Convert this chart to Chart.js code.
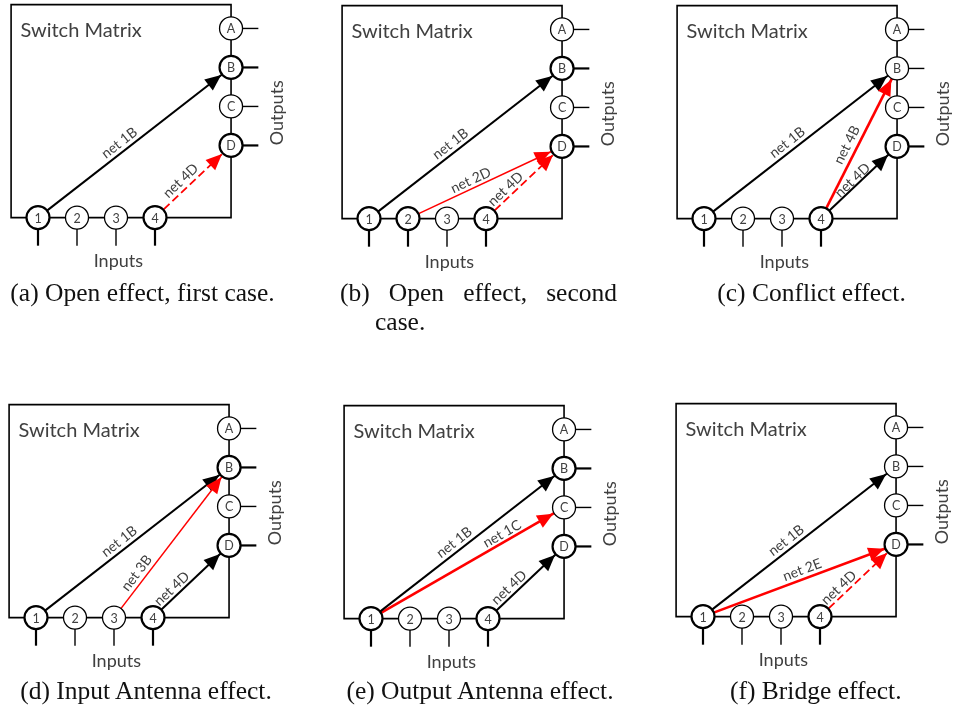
<!DOCTYPE html>
<html>
<head>
<meta charset="utf-8">
<script src="https://cdn.jsdelivr.net/npm/chart.js@4.4.1/dist/chart.umd.min.js"></script>
<style>
  body { margin: 0; background: #fff; }
  #page { position: relative; width: 956px; height: 707px; overflow: hidden; background: #fff; }
  canvas { position: absolute; }
  .cap {
    position: absolute; width: 320px; text-align: center; white-space: nowrap;
    font-family: "Liberation Serif", serif; font-size: 25.5px; line-height: 30px; color: #111;
  }
</style>
</head>
<body>
<div id="page"></div>
<script>
// switch matrix pins (axis values in grid units)
const inputNames = ['1', '2', '3', '4'];
const inputPos = [1, 2, 3, 4];
const outputNames = ['A', 'B', 'C', 'D'];
const outputPos = [4.85, 3.85, 2.85, 1.85];
const outputColumn = 5.95;

// one entry per sub-figure
const panelLetters = ['a', 'b', 'c', 'd', 'e', 'f'];
const captionTexts = ['Open effect, first case.', 'Open effect, second case.', 'Conflict effect.',
                      'Input Antenna effect.', 'Output Antenna effect.', 'Bridge effect.'];
const netSources = [['1', '4'], ['1', '2', '4'], ['1', '4', '4'], ['1', '3', '4'], ['1', '1', '4'], ['1', '1', '4']];
const netTargets = [['B', 'D'], ['B', 'D', 'D'], ['B', 'B', 'D'], ['B', 'B', 'D'], ['B', 'C', 'D'], ['B', 'D', 'D']];
const netLabels = [['net 1B', 'net 4D'], ['net 1B', 'net 2D', 'net 4D'], ['net 1B', 'net 4B', 'net 4D'],
                   ['net 1B', 'net 3B', 'net 4D'], ['net 1B', 'net 1C', 'net 4D'], ['net 1B', 'net 2E', 'net 4D']];
const netKinds = [['ok', 'open'], ['ok', 'fault', 'open'], ['ok', 'fault', 'ok'],
                  ['ok', 'fault', 'ok'], ['ok', 'fault', 'ok'], ['ok', 'fault', 'open']];
const activeNodes = [['1', '4', 'B', 'D'], ['1', '2', '4', 'B', 'D'], ['1', '4', 'D'],
                     ['1', '4', 'B', 'D'], ['1', '4', 'B', 'D'], ['1', '4', 'D']];

// ---- layout / style ----
const UNIT = 39;                 // px per grid unit
const W = 296, H = 281;          // canvas size of one diagram
const Y_MIN = -1.6;
const BOX_LEFT = 0.31, BOX_TOP = 5.46;
const PIN_RIGHT = 6.65, PIN_BOTTOM = -0.72;
const R = 11.5;                  // node radius
// page position of input "1" for each panel
const originX = [37.5, 369.3, 703.5, 35.7, 370.7, 703.3];
const originY = [218, 218.3, 218.5, 617.7, 618.3, 616.7];
const faultWidth = [2, 1.5, 2.6, 1.5, 2.6, 2.6];
const labelAt = [[0.45, 0.42], [0.45, 0.43, 0.33], [0.46, 0.46, 0.47],
                 [0.46, 0.26, 0.32], [0.46, 0.7, 0.35], [0.46, 0.53, 0.32]];
const labelGap = [[9, 9], [9, 8, 8], [9, 10, 6], [9, 9, 8], [9, 8, 8], [9, 9, 8]];
const captionCenter = [142.5, 478, 811.5, 146, 480, 815.8];
const captionTop = [278, 278, 278, 676, 676, 676];
const RED = '#ff0000';
const TEXT = '#404040';
const FONT = 'Lato, "Open Sans", sans-serif';

function nodeXY(name) {
  let i = inputNames.indexOf(name);
  if (i >= 0) return { x: inputPos[i], y: 0 };
  i = outputNames.indexOf(name);
  return { x: outputColumn, y: outputPos[i] };
}

function netStyle(p, k) {
  const kind = netKinds[p][k];
  if (kind === 'ok') return { color: '#000', width: 2, dash: [] };
  if (kind === 'fault') return { color: RED, width: faultWidth[p], dash: [] };
  return { color: RED, width: 1.8, dash: [8, 4] };
}

const diagramPlugin = {
  id: 'diagram',
  beforeDatasetsDraw(chart, args, opts) {
    const { ctx, scales: { x, y } } = chart;
    const p = opts.panel;
    const px = v => x.getPixelForValue(v), py = v => y.getPixelForValue(v);
    ctx.save();
    ctx.strokeStyle = '#000';
    ctx.lineWidth = 1.6;
    ctx.beginPath();
    ctx.moveTo(px(BOX_LEFT), py(0));
    ctx.lineTo(px(BOX_LEFT), py(BOX_TOP));
    ctx.lineTo(px(outputColumn), py(BOX_TOP));
    ctx.lineTo(px(outputColumn), py(0));
    ctx.closePath();
    ctx.stroke();
    // pins
    inputNames.forEach((n, i) => {
      ctx.lineWidth = activeNodes[p].includes(n) ? 2.2 : 1.4;
      ctx.beginPath();
      ctx.moveTo(px(inputPos[i]), py(0));
      ctx.lineTo(px(inputPos[i]), py(PIN_BOTTOM));
      ctx.stroke();
    });
    outputNames.forEach((n, i) => {
      ctx.lineWidth = activeNodes[p].includes(n) ? 2.2 : 1.4;
      ctx.beginPath();
      ctx.moveTo(px(outputColumn), py(outputPos[i]));
      ctx.lineTo(px(PIN_RIGHT), py(outputPos[i]));
      ctx.stroke();
    });
    ctx.restore();
  },
  afterDatasetsDraw(chart, args, opts) {
    const { ctx, scales: { x, y } } = chart;
    const p = opts.panel;
    const px = v => x.getPixelForValue(v), py = v => y.getPixelForValue(v);
    ctx.save();
    // arrow heads and net labels
    netSources[p].forEach((src, k) => {
      const a = nodeXY(src), b = nodeXY(netTargets[p][k]);
      const ax = px(a.x), ay = py(a.y), bx = px(b.x), by = py(b.y);
      const len = Math.hypot(bx - ax, by - ay);
      const ux = (bx - ax) / len, uy = (by - ay) / len;
      const st = netStyle(p, k);
      const tipX = bx - ux * (R + 1), tipY = by - uy * (R + 1);
      const baseX = tipX - ux * 16, baseY = tipY - uy * 16;
      ctx.fillStyle = st.color;
      ctx.beginPath();
      ctx.moveTo(tipX, tipY);
      ctx.lineTo(baseX + uy * 7, baseY - ux * 7);
      ctx.lineTo(baseX - uy * 7, baseY + ux * 7);
      ctx.closePath();
      ctx.fill();

      const t = labelAt[p][k], g = labelGap[p][k];
      const lx = ax + (bx - ax) * t + uy * g, ly = ay + (by - ay) * t - ux * g;
      ctx.save();
      ctx.translate(lx, ly);
      ctx.rotate(Math.atan2(uy, ux));
      ctx.fillStyle = TEXT;
      ctx.font = '14px ' + FONT;
      ctx.textAlign = 'center';
      ctx.textBaseline = 'middle';
      ctx.fillText(netLabels[p][k], 0, 0);
      ctx.restore();
    });
    // node names
    ctx.fillStyle = TEXT;
    ctx.font = '12.5px ' + FONT;
    ctx.textAlign = 'center';
    ctx.textBaseline = 'middle';
    inputNames.forEach((n, i) => ctx.fillText(n, px(inputPos[i]), py(0) + 1));
    outputNames.forEach((n, i) => ctx.fillText(n, px(outputColumn), py(outputPos[i]) + 1));
    // titles
    ctx.font = '20px ' + FONT;
    ctx.textAlign = 'left';
    ctx.fillText('Switch Matrix', px(0.55), py(4.8));
    ctx.font = '18px ' + FONT;
    ctx.textAlign = 'center';
    ctx.fillText('Inputs', px(3.06), py(-1.13));
    ctx.save();
    ctx.translate(px(7.14), py(2.69));
    ctx.rotate(-Math.PI / 2);
    ctx.fillText('Outputs', 0, 0);
    ctx.restore();
    ctx.restore();
  }
};

const page = document.getElementById('page');

panelLetters.forEach((letter, p) => {
  const canvas = document.createElement('canvas');
  canvas.width = W;
  canvas.height = H;
  canvas.style.width = W + 'px';
  canvas.style.height = H + 'px';
  canvas.style.left = (originX[p] - UNIT) + 'px';
  canvas.style.top = (originY[p] - (H / UNIT + Y_MIN) * UNIT) + 'px';
  page.appendChild(canvas);

  const nodes = inputNames.map((n, i) => ({ x: inputPos[i], y: 0, name: n }))
    .concat(outputNames.map((n, i) => ({ x: outputColumn, y: outputPos[i], name: n })));

  const datasets = [{
    label: 'nodes',
    data: nodes,
    order: 0,
    pointRadius: R,
    pointHoverRadius: R,
    pointBackgroundColor: '#fff',
    pointBorderColor: '#000',
    pointBorderWidth: nodes.map(d => activeNodes[p].includes(d.name) ? 2.2 : 1.3)
  }];
  netSources[p].forEach((src, k) => {
    const st = netStyle(p, k);
    datasets.push({
      label: netLabels[p][k],
      data: [nodeXY(src), nodeXY(netTargets[p][k])],
      order: 1,
      showLine: true,
      pointRadius: 0,
      borderColor: st.color,
      borderWidth: st.width,
      borderDash: st.dash
    });
  });

  new Chart(canvas, {
    type: 'scatter',
    data: { datasets },
    options: {
      responsive: false,
      animation: false,
      events: [],
      layout: { padding: 0, autoPadding: false },
      plugins: { legend: { display: false }, tooltip: { enabled: false }, diagram: { panel: p } },
      scales: {
        x: { type: 'linear', min: 0, max: W / UNIT, display: false },
        y: { type: 'linear', min: Y_MIN, max: H / UNIT + Y_MIN, display: false }
      }
    },
    plugins: [diagramPlugin]
  });

  // caption
  if (letter === 'b') {
    const l1 = document.createElement('div');
    l1.className = 'cap';
    l1.style.cssText = 'left:340px;top:' + captionTop[p] + 'px;width:277px;text-align:justify;text-align-last:justify;white-space:normal';
    l1.textContent = '(b) Open effect, second';
    page.appendChild(l1);
    const l2 = document.createElement('div');
    l2.className = 'cap';
    l2.style.cssText = 'left:375px;top:' + (captionTop[p] + 29) + 'px;width:auto;text-align:left';
    l2.textContent = 'case.';
    page.appendChild(l2);
  } else {
    const c = document.createElement('div');
    c.className = 'cap';
    c.style.left = (captionCenter[p] - 160) + 'px';
    c.style.top = captionTop[p] + 'px';
    c.textContent = '(' + letter + ') ' + captionTexts[p];
    page.appendChild(c);
  }
});
</script>
</body>
</html>
